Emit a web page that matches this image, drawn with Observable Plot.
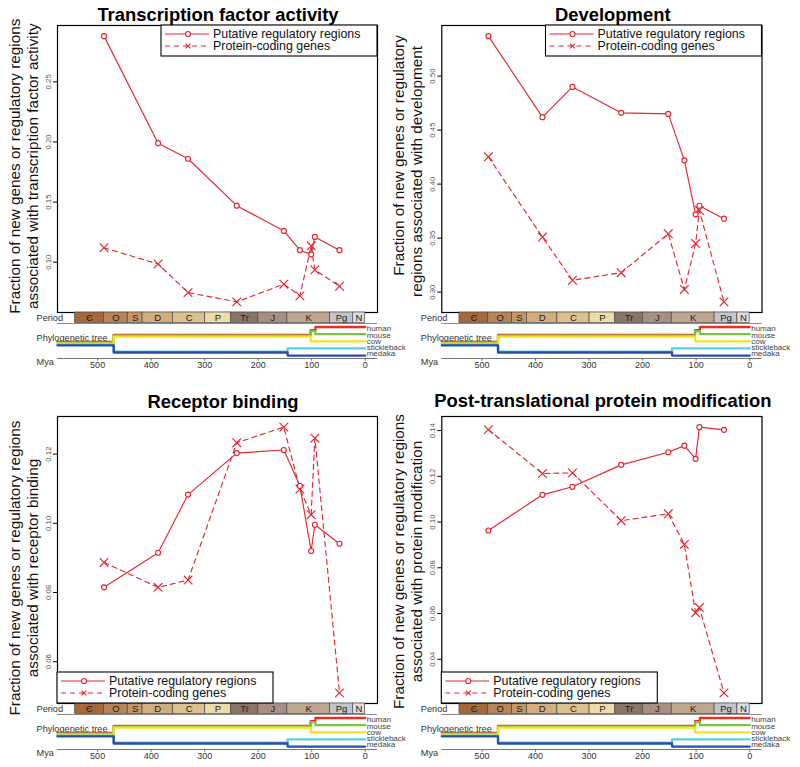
<!DOCTYPE html>
<html><head><meta charset="utf-8">
<script src="https://cdn.jsdelivr.net/npm/d3@7"></script>
<script src="https://cdn.jsdelivr.net/npm/@observablehq/plot@0.6"></script>
<style>
body{margin:0;background:#fff;}
#root{position:relative;width:800px;height:767px;overflow:hidden;font-family:"Liberation Sans",Arial,sans-serif;background:#fff;}
.abs{position:absolute;}
svg{overflow:visible;}
</style></head><body><div id="root"></div>
<script>
// ---- data ----
const mya = [488, 387, 331, 240, 152, 122, 101, 94, 48];

const tfRegulatory = [0.288, 0.199, 0.186, 0.147, 0.126, 0.110, 0.1065, 0.121, 0.110];
const tfProtein    = [0.112, 0.0985, 0.0747, 0.067, 0.0817, 0.072, 0.1136, 0.0936, 0.080];
const tfTicks = [0.10, 0.15, 0.20, 0.25];

const devRegulatory = [0.537, 0.462, 0.490, 0.466, 0.465, 0.422, 0.372, 0.380, 0.368];
const devProtein    = [0.4253, 0.351, 0.311, 0.318, 0.354, 0.3025, 0.345, 0.3757, 0.291];
const devTicks = [0.30, 0.35, 0.40, 0.45, 0.50];

const recRegulatory = [0.0815, 0.0915, 0.1083, 0.1203, 0.1212, 0.1108, 0.092, 0.0996, 0.0941];
const recProtein    = [0.0887, 0.0815, 0.0836, 0.1233, 0.1278, 0.1099, 0.1025, 0.1246, 0.051];
const recTicks = [0.06, 0.08, 0.10, 0.12];

const ptmRegulatory = [0.0963, 0.1119, 0.1154, 0.125, 0.1305, 0.1334, 0.1276, 0.1415, 0.1403];
const ptmProtein    = [0.1404, 0.1212, 0.1215, 0.1006, 0.1036, 0.0902, 0.0603, 0.0626, 0.0253];
const ptmTicks = [0.04, 0.06, 0.08, 0.10, 0.12, 0.14];

const periodNames  = ["Є", "O", "S", "D", "C", "P", "Tr", "J", "K", "Pg", "N"];
const periodStarts = [542, 488.3, 443.7, 416, 359.2, 299, 251, 199.6, 145.5, 65.5, 23];
const periodEnds   = [488.3, 443.7, 416, 359.2, 299, 251, 199.6, 145.5, 65.5, 23, 0];
const periodColors = ["#a5683b", "#b5845b", "#c49667", "#d2ad7e", "#dcc090", "#eedca8", "#8c7469", "#a98f83", "#bea78f", "#c4c4cb", "#dcdde3"];

const species = ["human", "mouse", "cow", "stickleback", "medaka"];
const speciesColors = ["#ec2f26", "#7cc243", "#f0e41c", "#5ecbe9", "#2a4ea3"];
// divergence times (Mya)
const splitMammalFish = 470, splitCow = 102, splitHumanMouse = 93, splitFish = 145;

const myaTicks = [500, 400, 300, 200, 100, 0];
const xDomain = [575, -23];
const RED = "#e3262f";
const FONT = "Liberation Sans, Arial, sans-serif";

const panels = [
  {title: "Transcription factor activity", ylab: ["Fraction of new genes or regulatory regions", "associated with transcription factor activity"], reg: tfRegulatory, prot: tfProtein, ticks: tfTicks, legend: "top-right"},
  {title: "Development", ylab: ["Fraction of new genes or regulatory", "regions associated with development"], reg: devRegulatory, prot: devProtein, ticks: devTicks, legend: "top-right"},
  {title: "Receptor binding", ylab: ["Fraction of new genes or regulatory regions", "associated with receptor binding"], reg: recRegulatory, prot: recProtein, ticks: recTicks, legend: "bottom-left"},
  {title: "Post-translational protein modification", ylab: ["Fraction of new genes or regulatory regions", "associated with protein modification"], reg: ptmRegulatory, prot: ptmProtein, ticks: ptmTicks, legend: "bottom-left"}
];

// ---- layout ----
const cols = [{left: 0, ml: 57, mr: 23}, {left: 400, ml: 41.3, mr: 38.5}];
const rows = [{top: 0}, {top: 391}];
const layout = [
  {c: 0, r: 0, tx: 218, ty: 20.7, d1: -2.8, d2: -2.8},
  {c: 1, r: 0, tx: 612.8, ty: 20.7, d1: -13.5, d2: 2.5},
  {c: 0, r: 1, tx: 223, ty: 408.3, d1: 8, d2: 8},
  {c: 1, r: 1, tx: 602.8, ty: 407.3, d1: 1.5, d2: 1.5}
];

const root = document.getElementById("root");
function place(el, left, top) {
  const d = document.createElement("div");
  d.className = "abs";
  d.style.left = left + "px"; d.style.top = top + "px";
  d.appendChild(el); root.appendChild(d);
}

// tree paths from topology
const tipRow = {human: 0, mouse: 1, cow: 2, stickleback: 3, medaka: 4};
const hmRow = (tipRow.human + tipRow.mouse) / 2;
const mamRow = (hmRow + tipRow.cow) / 2;
const fishRow = (tipRow.stickleback + tipRow.medaka) / 2;
const rootRow = (mamRow + fishRow) / 2;
const x0 = xDomain[0];
const treePaths = {
  human: [[x0, rootRow], [splitMammalFish, mamRow], [splitCow, hmRow], [splitHumanMouse, tipRow.human], [0, tipRow.human]],
  mouse: [[x0, rootRow], [splitMammalFish, mamRow], [splitCow, hmRow], [splitHumanMouse, tipRow.mouse], [0, tipRow.mouse]],
  cow: [[x0, rootRow], [splitMammalFish, mamRow], [splitCow, tipRow.cow], [0, tipRow.cow]],
  stickleback: [[x0, rootRow], [splitMammalFish, fishRow], [splitFish, tipRow.stickleback], [0, tipRow.stickleback]],
  medaka: [[x0, rootRow], [splitMammalFish, fishRow], [splitFish, tipRow.medaka], [0, tipRow.medaka]]
};
const periods = periodNames.map((n, i) => ({name: n, start: periodStarts[i], end: periodEnds[i], color: periodColors[i]}));

panels.forEach((p, k) => {
  const L = layout[k], col = cols[L.c], row = rows[L.r];
  const all = p.reg.concat(p.prot);
  const lo = d3.min(all), hi = d3.max(all), pad = (hi - lo) * 0.04;
  const regData = mya.map((x, i) => ({x, y: p.reg[i]}));
  const protData = mya.map((x, i) => ({x, y: p.prot[i]}));
  const style = {overflow: "visible", background: "transparent", fontFamily: FONT};

  const main = Plot.plot({
    width: 400, height: 312,
    marginLeft: col.ml, marginRight: col.mr, marginTop: 25, marginBottom: 0,
    style,
    x: {domain: xDomain, axis: null},
    y: {domain: [lo - pad, hi + pad]},
    marks: [
      Plot.axisY({ticks: p.ticks, tickSize: 4, tickFormat: () => "", label: null, stroke: "#000"}),
      Plot.text(p.ticks, {y: d => d, text: d => d3.format(".2f")(d), frameAnchor: "left", rotate: -90, dx: -7, lineAnchor: "bottom", textAnchor: "middle", fontSize: 7.8, fill: "#555"}),
      Plot.text([p.ylab[0]], {frameAnchor: "left", rotate: -90, dx: -38, dy: L.d1, lineAnchor: "bottom", textAnchor: "middle", fontSize: 15.3, fill: "#111"}),
      Plot.text([p.ylab[1]], {frameAnchor: "left", rotate: -90, dx: -19.7, dy: L.d2, lineAnchor: "bottom", textAnchor: "middle", fontSize: 15.3, fill: "#111"}),
      Plot.line(protData, {x: "x", y: "y", stroke: RED, strokeWidth: 1.15, strokeDasharray: "5,4"}),
      Plot.line(regData, {x: "x", y: "y", stroke: RED, strokeWidth: 1.15}),
      Plot.dot(protData, {x: "x", y: "y", symbol: "times", r: 4, stroke: RED, strokeWidth: 1.15}),
      Plot.dot(regData, {x: "x", y: "y", symbol: "circle", r: 2.5, stroke: RED, fill: "white", strokeWidth: 1.15}),
      Plot.frame({stroke: "#000", strokeWidth: 1.2})
    ]
  });
  place(main, col.left, row.top);

  const per = Plot.plot({
    width: 400, height: 10.5,
    marginLeft: col.ml, marginRight: col.mr, marginTop: 0, marginBottom: 0,
    style,
    x: {domain: xDomain, axis: null},
    color: {type: "identity"},
    marks: [
      Plot.rect(periods, {x1: "start", x2: "end", fill: "color", stroke: "#4a4a4a", strokeWidth: 0.7}),
      Plot.text(periods, {x: d => (d.start + d.end) / 2, text: "name", fontSize: 9.5, fill: "#222"}),
      Plot.text(["Period"], {frameAnchor: "left", dx: -21, textAnchor: "start", fontSize: 9.2, fill: "#333"})
    ]
  });
  place(per, col.left, row.top + 312);

  const treeMarks = [
    Plot.ruleY([-0.85], {stroke: "#8a8a8a", strokeWidth: 1}),
    Plot.text(["Phylogenetic tree"], {frameAnchor: "top-left", dx: -21, dy: 11.3, textAnchor: "start", fontSize: 9.2, fill: "#333"})
  ];
  species.forEach((s, i) => {
    treeMarks.push(Plot.line(treePaths[s].map(([x, y]) => ({x, y})), {x: "x", y: "y", stroke: speciesColors[i], strokeWidth: 2.3, curve: "step-after", dy: (i - 2) * 0.9}));
  });
  treeMarks.push(
    Plot.text(species, {x: () => 0, y: d => tipRow[d], text: d => d, dx: 1.5, textAnchor: "start", fontSize: 8, fill: "#444"}),
    Plot.axisX({ticks: myaTicks, tickSize: 2.7, tickPadding: 0.5, fontSize: 9, label: null, stroke: "#666", fill: "#333"}),
    Plot.ruleY([4.75], {stroke: "#777", strokeWidth: 1}),
    Plot.text(["Mya"], {frameAnchor: "bottom-left", dx: -21, dy: 6.5, textAnchor: "start", fontSize: 9.2, fill: "#333"})
  );
  const tree = Plot.plot({
    width: 400, height: 53,
    marginLeft: col.ml, marginRight: col.mr, marginTop: 0, marginBottom: 18,
    style,
    x: {domain: xDomain},
    y: {domain: [-0.85, 4.75], reverse: true, axis: null},
    marks: treeMarks
  });
  place(tree, col.left, row.top + 322.5);
});

// ---- overlay: titles and legends ----
const ov = d3.select(root).append("svg").attr("class", "abs")
  .attr("width", 800).attr("height", 767)
  .style("left", "0px").style("top", "0px").style("pointer-events", "none")
  .style("font-family", FONT);

panels.forEach((p, k) => {
  const L = layout[k], col = cols[L.c], row = rows[L.r];
  ov.append("text").attr("x", L.tx).attr("y", L.ty).attr("text-anchor", "middle")
    .attr("font-weight", "bold").attr("font-size", 18.4).attr("fill", "#000").text(p.title);

  const fl = col.left + col.ml, fr = col.left + 400 - col.mr, ft = row.top + 25, fb = row.top + 312;
  const w = 216, h = 31;
  const bx = p.legend === "top-right" ? fr - w : fl;
  const by = p.legend === "top-right" ? ft : fb - h;
  const g = ov.append("g");
  g.append("rect").attr("x", bx).attr("y", by).attr("width", w).attr("height", h)
    .attr("fill", "white").attr("stroke", "#000").attr("stroke-width", 1.1);
  const y1 = by + 9, y2 = by + 21;
  g.append("line").attr("x1", bx + 4).attr("x2", bx + 48).attr("y1", y1).attr("y2", y1).attr("stroke", RED).attr("stroke-width", 1.15);
  g.append("circle").attr("cx", bx + 27).attr("cy", y1).attr("r", 2.5).attr("fill", "white").attr("stroke", RED).attr("stroke-width", 1.15);
  g.append("line").attr("x1", bx + 4).attr("x2", bx + 48).attr("y1", y2).attr("y2", y2).attr("stroke", RED).attr("stroke-width", 1.15).attr("stroke-dasharray", "5,4");
  g.append("path").attr("d", `M${bx + 24.6},${y2 - 2.4}L${bx + 29.4},${y2 + 2.4}M${bx + 24.6},${y2 + 2.4}L${bx + 29.4},${y2 - 2.4}`).attr("stroke", RED).attr("stroke-width", 1.15);
  g.append("text").attr("x", bx + 52).attr("y", y1).attr("dy", "0.35em").attr("font-size", 12.4).attr("fill", "#111").text("Putative regulatory regions");
  g.append("text").attr("x", bx + 52).attr("y", y2).attr("dy", "0.35em").attr("font-size", 12.4).attr("fill", "#111").text("Protein-coding genes");
});
</script></body></html>
